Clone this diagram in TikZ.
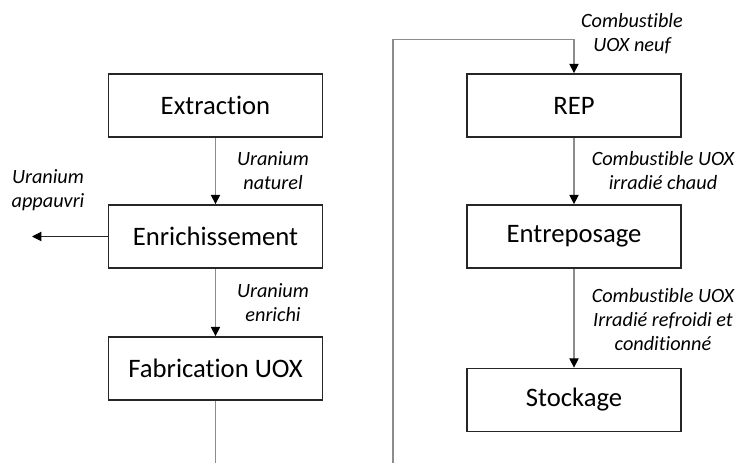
\documentclass[tikz,border=0pt]{standalone}
\usepackage{fontspec}
\setmainfont[Ligatures={NoCommon}]{Carlito}
\usetikzlibrary{arrows.meta}
\definecolor{linegray}{HTML}{8C8C8C}
\definecolor{boxline}{HTML}{262626}
\tikzset{
  box/.style={draw=boxline, line width=1.3pt, minimum width=160.5pt, minimum height=47.25pt, inner sep=0pt, font=\fontsize{20}{24}\selectfont},
  lbl/.style={align=center, font=\fontsize{15.2}{18}\selectfont\itshape, inner sep=0pt},
  conn/.style={draw=linegray, line width=0.8pt, -{Triangle[length=7pt,width=7pt,fill=black,color=black]}},
  plain/.style={draw=linegray, line width=0.8pt},
}
\begin{document}
\begin{tikzpicture}[x=0.75pt,y=-0.75pt]
\useasboundingbox (0,0) rectangle (740,463);
\node[box] (ext) at (215.5,105.5) {Extraction};
\node[box] (enr) at (215.5,236.5) {Enrichissement};
\node[box] (fab) at (215.5,368.5) {Fabrication UOX};
\node[box] (rep) at (574,105.5) {REP};
\node[box] (ent) at (574,236.5) {Entreposage};
\node[box] (sto) at (574,400) {Stockage};
\coordinate (fabend) at (215.5,463);
\coordinate (loopstart) at (393,463);
\coordinate (loopcorner) at (393,39.5);
\coordinate (loopturn) at (574,39.5);
\coordinate (dep) at (32,236.5);
\draw[conn] (ext) -- (enr);
\draw[conn] (enr) -- (fab);
\draw[plain] (fab) -- (fabend);
\draw[conn, draw=black!85] (enr) -- (dep);
\draw[conn] (loopstart) -- (loopcorner) -- (loopturn) -- (rep);
\draw[conn] (rep) -- (ent);
\draw[conn] (ent) -- (sto);
\node[lbl] at (273,171) {Uranium\\naturel};
\node[lbl] at (273,303) {Uranium\\enrichi};
\node[lbl] at (48,190.5) {Uranium\\appauvri};
\node[lbl] at (632,34) {Combustible\\UOX neuf};
\node[lbl] at (663,171) {Combustible UOX\\irradié chaud};
\node[lbl] at (663,320) {Combustible UOX\\Irradié refroidi et\\conditionné};
\end{tikzpicture}
\end{document}
